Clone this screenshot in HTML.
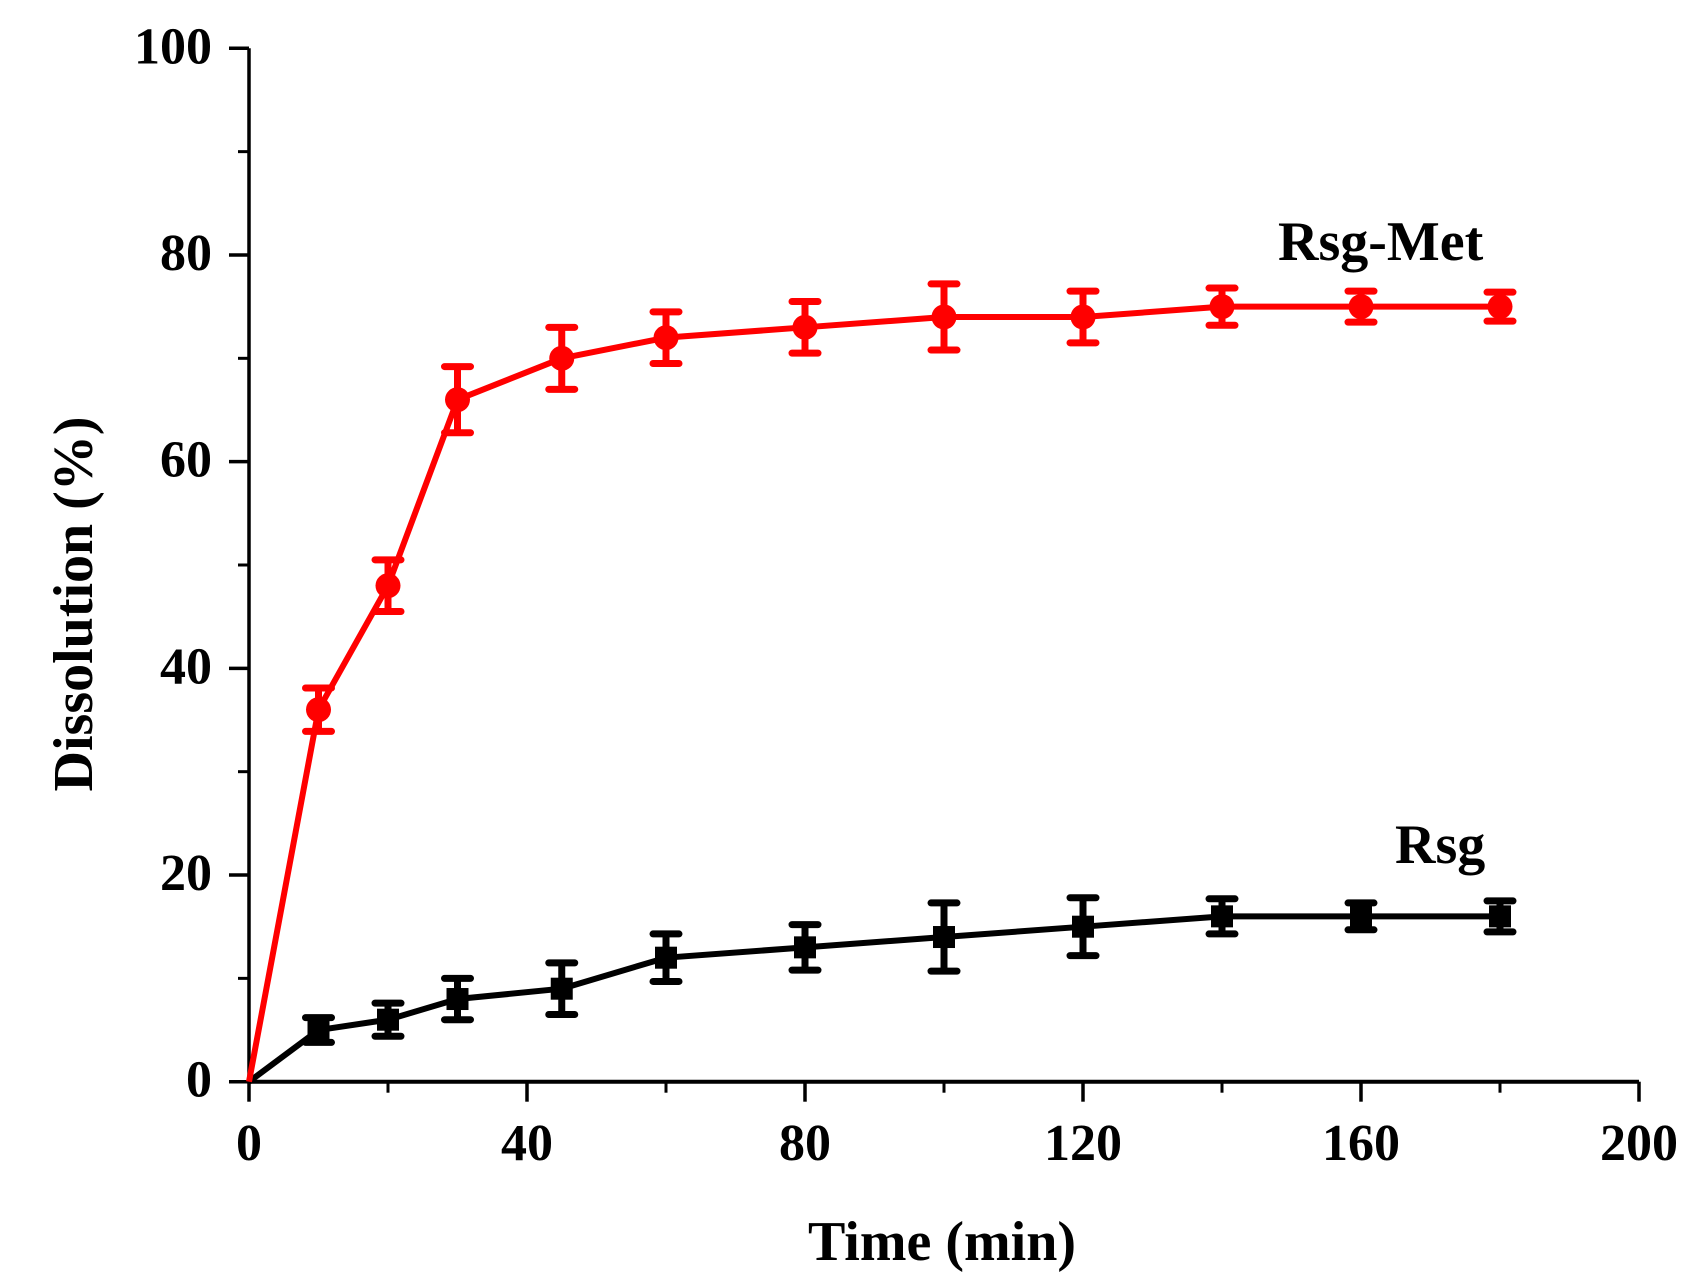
<!DOCTYPE html>
<html><head><meta charset="utf-8"><style>
html,body{margin:0;padding:0;background:#fff;}
svg{display:block;font-family:"Liberation Serif",serif;font-weight:bold;}
</style></head><body>
<svg id="chart" width="1702" height="1288" viewBox="0 0 1702 1288" xmlns="http://www.w3.org/2000/svg">
<g id="axes"></g>
<g id="series"></g>
<text x="0" y="0" font-size="56" text-anchor="middle" transform="translate(92,604) rotate(-90)">Dissolution (%)</text>
<text x="942" y="1260" font-size="56" text-anchor="middle">Time (min)</text>
<text x="1278" y="260" font-size="56">Rsg-Met</text>
<text x="1395" y="863" font-size="56">Rsg</text>
</svg>
<script>
const times = [0, 10, 20, 30, 45, 60, 80, 100, 120, 140, 160, 180];
const rsgMet = [0, 36, 48, 66, 70, 72, 73, 74, 74, 75, 75, 75];
const rsgMetErr = [0, 2.1, 2.5, 3.2, 3, 2.5, 2.5, 3.2, 2.5, 1.8, 1.5, 1.4];
const rsg = [0, 5, 6, 8, 9, 12, 13, 14, 15, 16, 16, 16];
const rsgErr = [0, 1.2, 1.6, 2, 2.5, 2.3, 2.2, 3.3, 2.8, 1.7, 1.3, 1.5];
const xTicks = [0, 40, 80, 120, 160, 200];
const xMinor = [20, 60, 100, 140, 180];
const yTicks = [0, 20, 40, 60, 80, 100];
const yMinor = [10, 30, 50, 70, 90];

const NS = 'http://www.w3.org/2000/svg';
function X(v){ return 249 + v * (1639 - 249) / 200; }
function Y(v){ return 1081.7 - v * (1081.7 - 48.3) / 100; }
function mk(tag, attrs, parent){
  const e = document.createElementNS(NS, tag);
  for (const k in attrs) e.setAttribute(k, attrs[k]);
  parent.appendChild(e); return e;
}
const axes = document.getElementById('axes');
const ser = document.getElementById('series');

let ax = mk('line', {x1:X(0), y1:Y(0), x2:X(200), y2:Y(0), stroke:'#000', 'stroke-width':4}, axes);


let ay = mk('line', {x1:X(0), y1:Y(0)+2, x2:X(0), y2:Y(100), stroke:'#000', 'stroke-width':3.5}, axes);



xTicks.forEach(v => {
  const t = mk('line', {x1:X(v), y1:Y(0), x2:X(v), y2:Y(0)+20, stroke:'#000', 'stroke-width':3.5}, axes);
  
  
  const l = mk('text', {x:X(v), y:1160, 'font-size':52, 'text-anchor':'middle'}, axes);
  l.textContent = v;
  
  
});
xMinor.forEach(v => {
  const t = mk('line', {x1:X(v), y1:Y(0), x2:X(v), y2:Y(0)+11, stroke:'#000', 'stroke-width':3}, axes);
  
  
});
yTicks.forEach(v => {
  const t = mk('line', {x1:X(0), y1:Y(v), x2:X(0)-20, y2:Y(v), stroke:'#000', 'stroke-width':3.5}, axes);
  
  
  const l = mk('text', {x:212, y:Y(v)+15, 'font-size':52, 'text-anchor':'end'}, axes);
  l.textContent = v;
  
  
});
yMinor.forEach(v => {
  const t = mk('line', {x1:X(0), y1:Y(v), x2:X(0)-11, y2:Y(v), stroke:'#000', 'stroke-width':3}, axes);
  
  
});

function drawSeries(vals, errs, color, shape, name){
  const g = mk('g', {}, ser);
  
  
  const pts = times.map((t,i) => X(t) + ',' + Y(vals[i])).join(' ');
  const pl = mk('polyline', {points:pts, fill:'none', stroke:color, 'stroke-width':6, 'stroke-linejoin':'round'}, g);
  
  
  times.forEach((t,i) => {
    if (i === 0) return;
    const x = X(t), y1 = Y(vals[i] + errs[i]), y2 = Y(vals[i] - errs[i]);
    const eb = mk('path', {d:`M${x},${y1}V${y2}M${x-13},${y1}H${x+13}M${x-13},${y2}H${x+13}`, stroke:color, 'stroke-width':7, 'stroke-linecap':'round', fill:'none'}, g);
    
    
    let m;
    if (shape === 'circle') m = mk('circle', {cx:x, cy:Y(vals[i]), r:12.5, fill:color}, g);
    else m = mk('rect', {x:x-11, y:Y(vals[i])-11, width:22, height:22, fill:color}, g);
    
    
  });
}
drawSeries(rsg, rsgErr, '#000', 'square', 'rsg');
drawSeries(rsgMet, rsgMetErr, '#ff0000', 'circle', 'rsg-met');
</script>
</body></html>
